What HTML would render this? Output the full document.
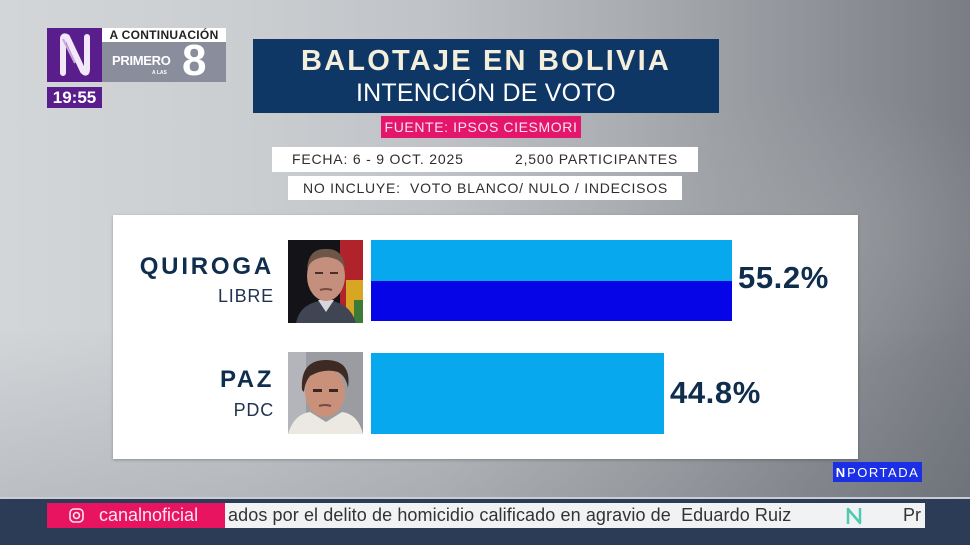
<!DOCTYPE html>
<html><head><meta charset="utf-8">
<style>
*{margin:0;padding:0;box-sizing:border-box}
html,body{width:970px;height:545px;overflow:hidden}
body{position:relative;font-family:"Liberation Sans",sans-serif;
background:
 radial-gradient(ellipse 300px 200px at 820px 230px, rgba(170,174,178,0.35), rgba(170,174,178,0) 70%),
 linear-gradient(180deg, rgba(0,0,0,0) 0%, rgba(0,0,0,0) 60%, rgba(40,45,55,0.18) 100%),
 linear-gradient(90deg,#d3d6d9 0%,#cbced1 25%,#bfc2c6 45%,#a9adb1 65%,#92969b 82%,#7a7e84 100%);}
.abs{position:absolute}
.ctr{display:flex;align-items:center;justify-content:center}
</style></head><body>

<!-- logo -->
<div class="abs ctr" style="left:47px;top:28px;width:55px;height:54px;background:#5a1e8c;">
 <svg width="34" height="44" viewBox="0 0 34 44"><path d="M5 40 V6 Q5 2 9 4 L25 38 Q29 42 29 36 V4" fill="none" stroke="#f3e8f7" stroke-width="6" stroke-linecap="round" stroke-linejoin="round"/><path d="M5 6 L17 30" stroke="#c9a8e0" stroke-width="2" fill="none"/></svg>
</div>
<div class="abs" style="left:102px;top:28px;width:124px;height:14px;background:#ffffff;color:#222;font-size:12px;line-height:14px;text-align:center;letter-spacing:0.3px;font-weight:bold">A CONTINUACIÓN</div>
<div class="abs" style="left:102px;top:42px;width:124px;height:40px;background:#8a8d9c;">
 <div class="abs" style="left:10px;top:11px;color:#fff;font-weight:bold;font-size:13px;letter-spacing:-0.3px">PRIMERO</div>
 <div class="abs" style="left:50px;top:28px;color:#fff;font-size:5px;font-weight:bold">A LAS</div>
 <div class="abs" style="left:80px;top:-5px;color:#fff;font-weight:bold;font-size:44px;line-height:48px">8</div>
</div>
<div class="abs ctr" style="left:47px;top:87px;width:55px;height:21px;background:#5a1e8c;color:#fff;font-weight:bold;font-size:17px">19:55</div>

<!-- title -->
<div class="abs" style="left:253px;top:39px;width:466px;height:74px;background:#0e3765;">
 <div class="abs" style="left:0;top:7px;width:466px;text-align:center;color:#f4eedc;font-weight:bold;font-size:29px;letter-spacing:2.2px;line-height:30px">BALOTAJE EN BOLIVIA</div>
 <div class="abs" style="left:0;top:40px;width:466px;text-align:center;color:#ffffff;font-size:25px;letter-spacing:0.2px;line-height:28px">INTENCIÓN DE VOTO</div>
</div>
<div class="abs ctr" style="left:381px;top:116px;width:200px;height:22px;background:#e4166c;color:#fbe3ee;font-size:14px;letter-spacing:0.6px">FUENTE: IPSOS CIESMORI</div>
<div class="abs" style="left:272px;top:147px;width:426px;height:25px;background:#fff;color:#2e2e2e;font-size:14px;line-height:25px;letter-spacing:0.8px">
 <span class="abs" style="left:20px">FECHA: 6 - 9 OCT. 2025</span>
 <span class="abs" style="left:243px">2,500 PARTICIPANTES</span>
</div>
<div class="abs" style="left:288px;top:176px;width:394px;height:24px;background:#fff;color:#2e2e2e;font-size:14px;line-height:24px;letter-spacing:0.75px;white-space:pre"><span class="abs" style="left:15px">NO INCLUYE:  VOTO BLANCO/ NULO / INDECISOS</span></div>

<!-- panel -->
<div class="abs" style="left:113px;top:215px;width:745px;height:244px;background:#ffffff;box-shadow:0 1px 3px rgba(0,0,0,0.25)"></div>

<div class="abs" style="left:118px;top:253px;width:156px;text-align:right;color:#0f2d4c;font-weight:bold;font-size:24px;letter-spacing:2.8px">QUIROGA</div>
<div class="abs" style="left:120px;top:286px;width:154px;text-align:right;color:#1f3450;font-size:18px;letter-spacing:0.8px">LIBRE</div>
<div class="abs" style="left:148px;top:366px;width:126px;text-align:right;color:#0f2d4c;font-weight:bold;font-size:24px;letter-spacing:2.6px">PAZ</div>
<div class="abs" style="left:150px;top:400px;width:124px;text-align:right;color:#1f3450;font-size:18px;letter-spacing:0.8px">PDC</div>

<!-- photos -->
<svg class="abs" style="left:288px;top:240px" width="75" height="83" viewBox="0 0 75 83">
 <rect width="75" height="83" fill="#141418"/>
 <rect x="52" y="0" width="23" height="83" fill="#b0232a"/>
 <rect x="58" y="40" width="17" height="43" fill="#d9a623"/>
 <rect x="66" y="60" width="9" height="23" fill="#3c7a3a"/>
 <path d="M8 83 Q12 62 38 60 Q62 62 68 83Z" fill="#3f4552"/>
 <path d="M30 60 L38 72 L46 60Z" fill="#d8d8dc"/>
 <ellipse cx="38" cy="36" rx="19" ry="25" fill="#c48f7c"/>
 <path d="M19 30 Q20 8 38 9 Q56 8 57 30 Q54 18 38 17 Q22 18 19 30Z" fill="#6d5547"/>
 <rect x="27" y="32" width="8" height="2" fill="#4a2f28"/><rect x="42" y="32" width="8" height="2" fill="#4a2f28"/>
 <path d="M32 50 Q38 48 44 50" stroke="#7a4a40" stroke-width="2" fill="none"/>
</svg>
<svg class="abs" style="left:288px;top:352px" width="75" height="82" viewBox="0 0 75 82">
 <rect width="75" height="82" fill="#9a9ca2"/>
 <rect x="0" y="0" width="18" height="82" fill="#b4b5ba"/>
 <path d="M0 82 Q6 62 22 60 L38 70 L54 60 Q70 62 75 82Z" fill="#ece8e2"/>
 <ellipse cx="37" cy="40" rx="20" ry="25" fill="#c9917a"/>
 <path d="M14 38 Q12 8 38 8 Q64 8 60 36 Q58 24 50 20 Q36 16 22 24 Q17 30 16 40Z" fill="#3d2a22"/>
 <rect x="25" y="37" width="9" height="3" fill="#3a2620"/><rect x="41" y="37" width="9" height="3" fill="#3a2620"/>
 <path d="M31 54 Q37 52 43 54" stroke="#7a4a40" stroke-width="2" fill="none"/>
</svg>

<!-- bars -->
<div class="abs" style="left:371px;top:240px;width:361px;height:41px;background:#08a8ee"></div>
<div class="abs" style="left:371px;top:281px;width:361px;height:40px;background:#0505e8"></div>
<div class="abs" style="left:371px;top:353px;width:293px;height:81px;background:#08a8ee"></div>

<div class="abs" style="left:738px;top:261px;color:#0f2d4c;font-weight:bold;font-size:31px;line-height:34px;letter-spacing:0.6px">55.2%</div>
<div class="abs" style="left:670px;top:376px;color:#0f2d4c;font-weight:bold;font-size:31px;line-height:34px;letter-spacing:0.6px">44.8%</div>

<!-- portada -->
<div class="abs ctr" style="left:833px;top:462px;width:89px;height:20px;background:#1b2fe6;color:#fff;font-size:13px;letter-spacing:1.5px"><b style="letter-spacing:-1px;margin-right:3px">N</b>PORTADA</div>

<!-- bottom band -->
<div class="abs" style="left:0;top:497px;width:970px;height:48px;background:#2c3b56;border-top:2px solid #c9ccd2"></div>
<div class="abs" style="left:225px;top:503px;width:700px;height:25px;background:#f1f2f4;overflow:hidden">
 <div class="abs" style="left:3px;top:0;line-height:25px;color:#333;font-size:18px;letter-spacing:0.1px;white-space:pre">ados por el delito de homicidio calificado en agravio de  Eduardo Ruiz</div>
 <svg class="abs" style="left:620px;top:3px" width="18" height="20" viewBox="0 0 18 20"><path d="M3 18 V3 L15 17 V2" stroke="#4fc9b0" stroke-width="2.5" fill="none" stroke-linejoin="round"/></svg>
 <div class="abs" style="left:678px;top:0;line-height:25px;color:#333;font-size:18px">Pr</div>
</div>
<div class="abs" style="left:47px;top:503px;width:178px;height:25px;background:#e8145f;color:#fbe5ee;font-size:18px;line-height:25px">
 <svg class="abs" style="left:22px;top:5px" width="15" height="15" viewBox="0 0 15 15"><rect x="1" y="1" width="13" height="13" rx="4" fill="none" stroke="#fbe5ee" stroke-width="1.6"/><circle cx="7.5" cy="7.5" r="3" fill="none" stroke="#fbe5ee" stroke-width="1.6"/></svg>
 <span class="abs" style="left:52px">canalnoficial</span>
</div>
</body></html>
